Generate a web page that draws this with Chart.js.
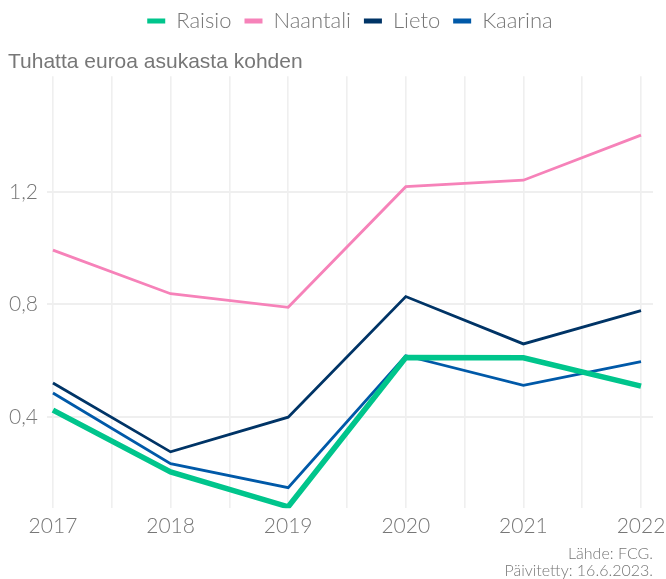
<!DOCTYPE html>
<html>
<head>
<meta charset="utf-8">
<script src="https://cdn.jsdelivr.net/npm/chart.js@4"></script>
<style>
  body { margin: 0; background: #fff; }
  canvas { display: block; }
</style>
</head>
<body>
<canvas id="myChart" width="666" height="579"></canvas>
<script>
const years = [2017, 2018, 2019, 2020, 2021, 2022];
const raisio = [0.425, 0.206, 0.082, 0.612, 0.611, 0.51];
const naantali = [0.993, 0.838, 0.79, 1.218, 1.241, 1.401];
const lieto = [0.521, 0.277, 0.4, 0.828, 0.66, 0.778];
const kaarina = [0.486, 0.235, 0.15, 0.618, 0.513, 0.597];
const yTicks = [0.4, 0.8, 1.2];

const gray = "#777777";
const gridColor = "#efefef";
const thinFont = { family: "Lato", weight: 300, size: 21 };

const toPoints = (values) => years.map((year, i) => ({ x: year, y: values[i] }));

const makeDataset = (label, color, values, width) => ({
    label,
    data: toPoints(values),
    borderColor: color,
    backgroundColor: color,
    borderWidth: width,
    pointRadius: 0,
    tension: 0,
});

const datasets = [
    makeDataset("Raisio", "#00c58c", raisio, 5.5),
    makeDataset("Naantali", "#f682b9", naantali, 2.8),
    makeDataset("Lieto", "#003466", lieto, 2.8),
    makeDataset("Kaarina", "#0059a8", kaarina, 2.8),
];

// year ticks plus the half-year lines in between
const xGrid = [];
years.forEach((year, i) => {
    xGrid.push(year);
    if (i < years.length - 1) xGrid.push(year + 0.5);
});

// legend centred over the plot panel, title nudged in from the edge
const boxShift = {
    id: "boxShift",
    afterLayout(chart) {
        const lg = chart.legend;
        const shift = (chart.chartArea.left + chart.chartArea.right) / 2 - (lg.left + lg.right) / 2;
        lg.left += shift;
        lg.right += shift;
        chart.titleBlock.left += 8;
        chart.titleBlock.right += 8;
    },
};

const chart = new Chart(document.getElementById("myChart"), {
    type: "line",
    data: { datasets },
    plugins: [boxShift],
    options: {
        responsive: false,
        animation: false,
        layout: { padding: { left: 0, right: 13, top: -3, bottom: 0 } },
        plugins: {
            legend: {
                position: "top",
                align: "center",
                labels: {
                    boxWidth: 18,
                    boxHeight: 5,
                    padding: 13,
                    color: gray,
                    font: { family: "Lato", weight: 300, size: 22 },
                    generateLabels: (c) =>
                        Chart.defaults.plugins.legend.labels.generateLabels(c).map((item) => ({
                            ...item,
                            lineWidth: 0,
                        })),
                },
            },
            title: {
                display: true,
                text: "Tuhatta euroa asukasta kohden",
                align: "start",
                weight: 500,
                color: gray,
                font: { family: "Liberation Sans", size: 21, weight: "normal", lineHeight: 1.2 },
                padding: { top: 8, bottom: 1 },
            },
            subtitle: {
                display: true,
                position: "bottom",
                align: "end",
                text: ["Lähde: FCG.", "Päivitetty: 16.6.2023."],
                color: gray,
                font: { family: "Lato", size: 16, weight: 300, lineHeight: 1.05 },
                padding: { top: 2, bottom: 0 },
            },
            tooltip: { enabled: false },
        },
        scales: {
            x: {
                type: "linear",
                min: 2016.949,
                max: 2022.102,
                afterBuildTicks: (scale) => {
                    scale.ticks = xGrid.map((v) => ({ value: v }));
                },
                afterFit: (scale) => {
                    scale.paddingLeft = 0;
                    scale.paddingRight = 0;
                },
                grid: { color: gridColor, lineWidth: 1.6, drawTicks: false },
                border: { display: false },
                ticks: {
                    color: gray,
                    font: thinFont,
                    padding: 5,
                    maxRotation: 0,
                    autoSkip: false,
                    callback: (v) => (Number.isInteger(v) ? String(v) : ""),
                },
            },
            y: {
                min: 0.077,
                max: 1.61,
                afterBuildTicks: (scale) => {
                    scale.ticks = yTicks.map((v) => ({ value: v }));
                },
                grid: { color: gridColor, lineWidth: 2, drawTicks: false },
                border: { display: false },
                ticks: {
                    color: gray,
                    font: thinFont,
                    padding: 9,
                    callback: (v) => v.toFixed(1).replace(".", ","),
                },
            },
        },
    },
});
</script>
</body>
</html>
